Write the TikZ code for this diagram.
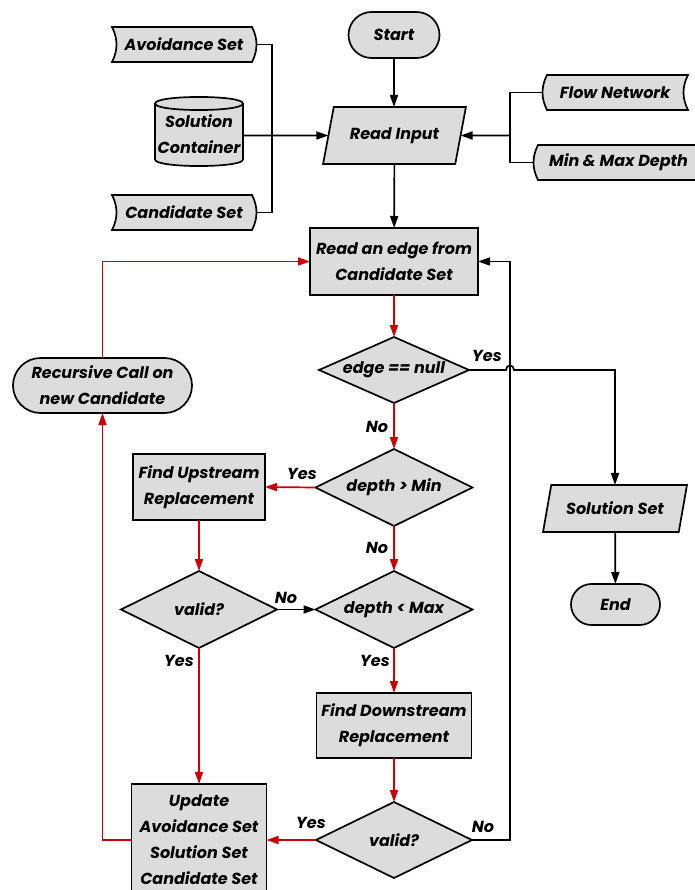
\documentclass[tikz,border=0pt]{standalone}
\usepackage{fontspec}
\setmainfont{Poppins}
\usetikzlibrary{shapes.geometric,shapes.misc,arrows.meta}

\definecolor{boxfill}{HTML}{DCDCDC}
\definecolor{flowred}{HTML}{CC0000}

\begin{document}
\begin{tikzpicture}[x=1pt,y=-1pt,
  txt/.style={font=\fontsize{16}{26}\selectfont\bfseries\itshape},
  every node/.style={txt, align=center, inner sep=0pt, outer sep=0pt},
  shp/.style={draw, line width=1.7pt, fill=boxfill},
  proc/.style={shp, rectangle},
  term/.style={shp, rounded rectangle},
  dec/.style={shp, diamond, aspect=2.2},
  io/.style={shp, trapezium, trapezium left angle=64, trapezium right angle=116,
             trapezium stretches=true},
  store/.style={rectangle, draw=none},
  lbl/.style={text=black},
  link/.style={line width=1.7pt, line join=miter},
  arr/.style={link, -{Triangle[length=12pt,width=8pt]}},
  redarr/.style={arr, color=flowred},
]
\useasboundingbox (0,0) rectangle (694,890);

% ---- data stores (outlines drawn first, text nodes on top) ----
% mirrored stored-data symbols on the left
\path[shp] (112,27) -- (252,27) .. controls (258,38.7) and (258,50.3) .. (252,62)
  -- (112,62) .. controls (118,50.3) and (118,38.7) .. (112,27) -- cycle;
\node[store, minimum width=144, minimum height=35] (av) at (184,44.5) {Avoidance Set};
\path[shp] (112,195) -- (252,195) .. controls (258,206.7) and (258,218.3) .. (252,230)
  -- (112,230) .. controls (118,218.3) and (118,206.7) .. (112,195) -- cycle;
\node[store, minimum width=144, minimum height=35] (cs) at (184,212.5) {Candidate Set};

% cylinder
\path[shp] (155,103.5) -- (155,159.5) .. controls (155,168.2) and (243,168.2) .. (243,159.5)
  -- (243,103.5) .. controls (243,94.8) and (155,94.8) .. (155,103.5) -- cycle;
\draw[line width=1.7pt] (155,103.5) .. controls (155,112.2) and (243,112.2) .. (243,103.5);
\node[store, minimum width=88, minimum height=69] (sc) at (199,134) {Solution\\Container};

% stored-data symbols on the right
\path[shp] (547,75) -- (688,75) .. controls (682,86.7) and (682,98.3) .. (688,110)
  -- (547,110) .. controls (541,98.3) and (541,86.7) .. (547,75) -- cycle;
\node[store, minimum width=146, minimum height=35] (fn) at (615,92.5) {Flow Network};
\path[shp] (538,145) -- (704,145) .. controls (698,156.7) and (698,168.3) .. (704,180)
  -- (538,180) .. controls (532,168.3) and (532,156.7) .. (538,145) -- cycle;
\node[store, minimum width=171, minimum height=35] (mm) at (618.5,162.5) {Min \& Max Depth};

% ---- flow nodes ----
\node[term, minimum width=91, minimum height=46] (st) at (394,35) {Start};
\node[io, minimum width=143, minimum height=57] (ri) at (394.5,135.5) {Read Input};
\node[proc, minimum width=168, minimum height=67] (re) at (394,261.5) {Read an edge from\\Candidate Set};
\node[dec, minimum width=150, minimum height=66] (nu) at (394,370) {edge == null};
\node[dec, minimum width=157, minimum height=77] (dmin) at (394,487.5) {depth > Min};
\node[proc, minimum width=132, minimum height=66] (fu) at (199,487) {Find Upstream\\Replacement};
\node[dec, minimum width=156, minimum height=77] (v1) at (199,609.5) {valid?};
\node[dec, minimum width=157, minimum height=77] (dmax) at (394,609.5) {depth < Max};
\node[proc, minimum width=155, minimum height=65] (fd) at (394,725.5) {Find Downstream\\Replacement};
\node[dec, minimum width=156, minimum height=76] (v2) at (394,840) {valid?};
\node[proc, minimum width=135, minimum height=112] (up) at (199,840) {Update\\Avoidance Set\\Solution Set\\Candidate Set};
\node[term, minimum width=179, minimum height=55] (rc) at (102.5,385.5) {Recursive Call on\\new Candidate};
\node[io, minimum width=144, minimum height=47] (ss) at (615,508.5) {Solution Set};
\node[term, minimum width=89, minimum height=41] (en) at (615.5,604.5) {End};

% ---- junction points ----
\coordinate (jl) at (272,135.5);
\coordinate (jr) at (510,135.5);
\coordinate (hopa) at (506,370);
\coordinate (hopb) at (514,370);

% ---- input connectors ----
\draw[link] (av.east) -| (jl) |- (cs.east);
\draw[link] (fn.west) -| (jr) |- (mm.west);
\draw[arr] (jr) -- (ri);
\draw[arr] (sc.east |- ri) -- (ri);
\draw[arr] (st) -- (st |- ri.north);
\draw[arr] (ri) -- (re);

% ---- main loop ----
\draw[redarr] (re) -- (nu);
\draw[arr] (nu.east) -- (hopa) .. controls (506,364) and (514,364) .. (hopb) -| (ss.north);
\draw[arr] (ss) -- (en);
\draw[redarr] (nu) -- (dmin);
\draw[redarr] (dmin.west) -- (fu.east);
\draw[redarr] (dmin) -- (dmax);
\draw[redarr] (fu) -- (v1);
\draw[arr] (v1.east) -- (dmax.west);
\draw[redarr] (v1.south) -- (up.north);
\draw[redarr] (dmax) -- (fd);
\draw[redarr] (fd) -- (v2);
\draw[redarr] (v2.west) -- (up.east);
\draw[arr] (v2.east) -- ++(38,0) |- (re.east);
\draw[redarr] (up.west) -| (rc.south);
\draw[redarr] (rc.north) |- (re.west);

% ---- branch labels ----
\node[lbl] (l1) at (487,356) {Yes};
\node[lbl] (l2) at (377,427) {No};
\node[lbl] (l3) at (302,474) {Yes};
\node[lbl] (l4) at (377,548) {No};
\node[lbl] (l5) at (286,598) {No};
\node[lbl] (l6) at (179,661) {Yes};
\node[lbl] (l7) at (375,661) {Yes};
\node[lbl] (l8) at (311,823) {Yes};
\node[lbl] (l9) at (483,827) {No};
\end{tikzpicture}
\end{document}
